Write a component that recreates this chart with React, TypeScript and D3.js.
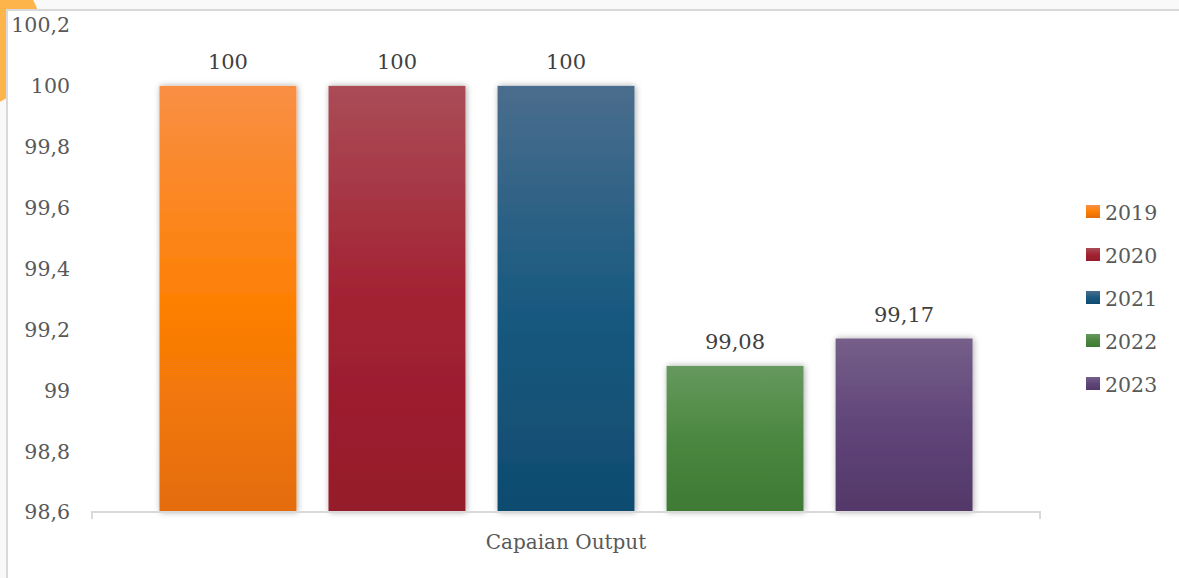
import React from 'react';
import * as d3 from 'd3';

const category = 'Capaian Output';
const years = ['2019', '2020', '2021', '2022', '2023'];
const values = [100, 100, 100, 99.08, 99.17];
const valueLabels = ['100', '100', '100', '99,08', '99,17'];
const yTicks = [98.6, 98.8, 99, 99.2, 99.4, 99.6, 99.8, 100, 100.2];
const yTickLabels = ['98,6', '98,8', '99', '99,2', '99,4', '99,6', '99,8', '100', '100,2'];
// top / middle / bottom of each bar's gradient
const gradients = [
  ['#f98f45', '#fd8005', '#e46c0a'],
  ['#aa4c56', '#a32233', '#951a2a'],
  ['#4a6d8d', '#1a5a80', '#0f4b6f'],
  ['#66995f', '#4b873f', '#3e7a33'],
  ['#755f89', '#604579', '#533869'],
];

const W = 1179;
const H = 578;
const font = '"DejaVu Serif", serif';

export default function App() {
  const y = d3.scaleLinear().domain([98.6, 100.2]).range([512, 25]);
  const xOuter = d3.scaleBand<string>().domain([category]).range([92, 1040]).paddingOuter(0.083);
  const xInner = d3
    .scaleBand<string>()
    .domain(years)
    .range([0, xOuter.bandwidth()])
    .paddingInner(0.19)
    .paddingOuter(0);
  const x0 = xOuter(category)!;

  return (
    <svg width={W} height={H} style={{ position: 'absolute', left: 0, top: 0 }}>
      <defs>
        {gradients.map((g, i) => (
          <linearGradient key={i} id={`grad${i}`} x1="0" y1="0" x2="0" y2="1">
            <stop offset="0%" stopColor={g[0]} />
            <stop offset="50%" stopColor={g[1]} />
            <stop offset="100%" stopColor={g[2]} />
          </linearGradient>
        ))}
        <filter id="shadow" x="-20%" y="-20%" width="140%" height="140%">
          <feDropShadow dx="1" dy="0" stdDeviation="3" floodColor="#000" floodOpacity="0.35" />
        </filter>
      </defs>

      {/* page background and decoration */}
      <rect x={0} y={0} width={W} height={H} fill="#f9f9f9" />
      <ellipse cx={-35} cy={35} rx={77} ry={75} fill="#fdb44b" />
      <rect x={7} y={10} width={W} height={H} fill="#fff" stroke="#d9d9d9" strokeWidth={2} />

      {/* y axis labels */}
      {yTicks.map((t, i) => (
        <text
          key={t}
          x={70}
          y={y(t)}
          dy="0.36em"
          textAnchor="end"
          fontFamily={font}
          fontSize={20.5}
          fill="#595959"
        >
          {yTickLabels[i]}
        </text>
      ))}

      {/* bars */}
      {years.map((yr, i) => {
        const bx = x0 + xInner(yr)!;
        const by = y(values[i]);
        return (
          <g key={yr}>
            <rect
              x={bx}
              y={by}
              width={xInner.bandwidth()}
              height={y(98.6) - by}
              fill={`url(#grad${i})`}
              filter="url(#shadow)"
            />
            <text
              x={bx + xInner.bandwidth() / 2}
              y={by - 17}
              textAnchor="middle"
              fontFamily={font}
              fontSize={21}
              fill="#404040"
            >
              {valueLabels[i]}
            </text>
          </g>
        );
      })}

      {/* x axis */}
      <path
        d={`M${xOuter.range()[0]},${y(98.6) + 7}V${y(98.6)}H${xOuter.range()[1]}V${y(98.6) + 7}`}
        fill="none"
        stroke="#d9d9d9"
        strokeWidth={2}
      />
      <text
        x={x0 + xOuter.bandwidth() / 2}
        y={549}
        textAnchor="middle"
        fontFamily={font}
        fontSize={20}
        fill="#595959"
      >
        {category}
      </text>

      {/* legend */}
      {years.map((yr, i) => (
        <g key={yr} transform={`translate(1086,${212 + i * 43})`}>
          <rect x={0} y={-7} width={14} height={13} fill={`url(#grad${i})`} />
          <text x={19} y={0} dy="0.38em" fontFamily={font} fontSize={20.5} fill="#595959">
            {yr}
          </text>
        </g>
      ))}
    </svg>
  );
}
